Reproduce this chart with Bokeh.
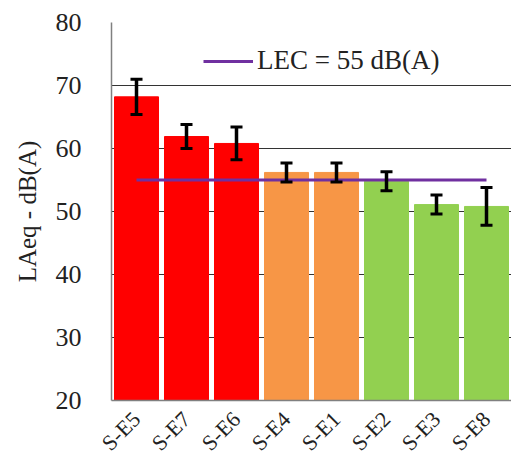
from bokeh.plotting import figure
from bokeh.models import (FactorRange, Range1d, ColumnDataSource, Whisker, TeeHead,
                          Legend, LegendItem, FixedTicker)
from bokeh.embed import file_html
from bokeh.resources import INLINE
import math

# ---- data ----
sites = ["S-E5", "S-E7", "S-E6", "S-E4", "S-E1", "S-E2", "S-E3", "S-E8"]
laeq = [68.2, 61.9, 60.8, 56.2, 56.2, 54.8, 51.1, 50.8]
err = [2.8, 1.9, 2.6, 1.5, 1.5, 1.5, 1.5, 3.0]
colors = ["#FF0000", "#FF0000", "#FF0000", "#F79646", "#F79646",
          "#92D050", "#92D050", "#92D050"]
lec_value = 55
lec_label = "LEC = 55 dB(A)"
y_ticks = [20, 30, 40, 50, 60, 70, 80]

FONT = "'Liberation Serif'"

src = ColumnDataSource(dict(
    site=sites, val=laeq, color=colors,
    upper=[v + e for v, e in zip(laeq, err)],
    lower=[v - e for v, e in zip(laeq, err)],
))

p = figure(x_range=FactorRange(*sites, range_padding=0), y_range=Range1d(20, 80),
           frame_width=400, frame_height=378,
           min_border_left=111, min_border_right=0, min_border_top=22, min_border_bottom=57,
           output_backend="svg", toolbar_location=None)
p.outline_line_color = None
p.background_fill_color = "white"

p.vbar(x="site", top="val", bottom=20, width=0.88, color="color", source=src)

w = Whisker(base="site", upper="upper", lower="lower", source=src,
            line_color="black", line_width=3.5, level="overlay",
            upper_head=TeeHead(size=12, line_color="black", line_width=3),
            lower_head=TeeHead(size=12, line_color="black", line_width=3))
p.add_layout(w)

lec = p.line(x=[sites[0], sites[-1]], y=[lec_value, lec_value],
             line_color="#7030A0", line_width=3)

legend = Legend(items=[LegendItem(label=lec_label, renderers=[lec])],
                location=(92, 324), padding=0, margin=0, spacing=0,
                glyph_width=50, glyph_height=20, label_standoff=4,
                label_text_font=FONT, label_text_font_size="27px",
                label_text_color="#222222",
                border_line_color=None, background_fill_alpha=0)
p.add_layout(legend)

# grid
p.xgrid.grid_line_color = None
p.ygrid.ticker = FixedTicker(ticks=y_ticks[1:])
p.ygrid.grid_line_color = "#333333"
p.ygrid.grid_line_width = 1

# y axis
p.yaxis.ticker = FixedTicker(ticks=y_ticks)
p.yaxis.axis_label = "LAeq - dB(A)"
p.yaxis.axis_label_text_font = FONT
p.yaxis.axis_label_text_font_style = "normal"
p.yaxis.axis_label_text_font_size = "25px"
p.yaxis.axis_label_text_color = "#222222"
p.yaxis.axis_label_standoff = 12
p.yaxis.major_label_text_font = FONT
p.yaxis.major_label_text_font_size = "26px"
p.yaxis.major_label_text_color = "#222222"
p.yaxis.major_label_standoff = 24
p.yaxis.major_tick_line_color = None
p.yaxis.minor_tick_line_color = None
p.yaxis.axis_line_color = "#808080"
p.yaxis.axis_line_width = 1.5

# x axis
p.xaxis.major_label_orientation = math.pi / 4
p.xaxis.major_label_text_font = FONT
p.xaxis.major_label_text_font_size = "22px"
p.xaxis.major_label_text_color = "#222222"
p.xaxis.major_label_standoff = 9
p.xaxis.major_tick_line_color = None
p.xaxis.axis_line_color = "#808080"
p.xaxis.axis_line_width = 1.5

open("out.html", "w").write(file_html(p, INLINE))
